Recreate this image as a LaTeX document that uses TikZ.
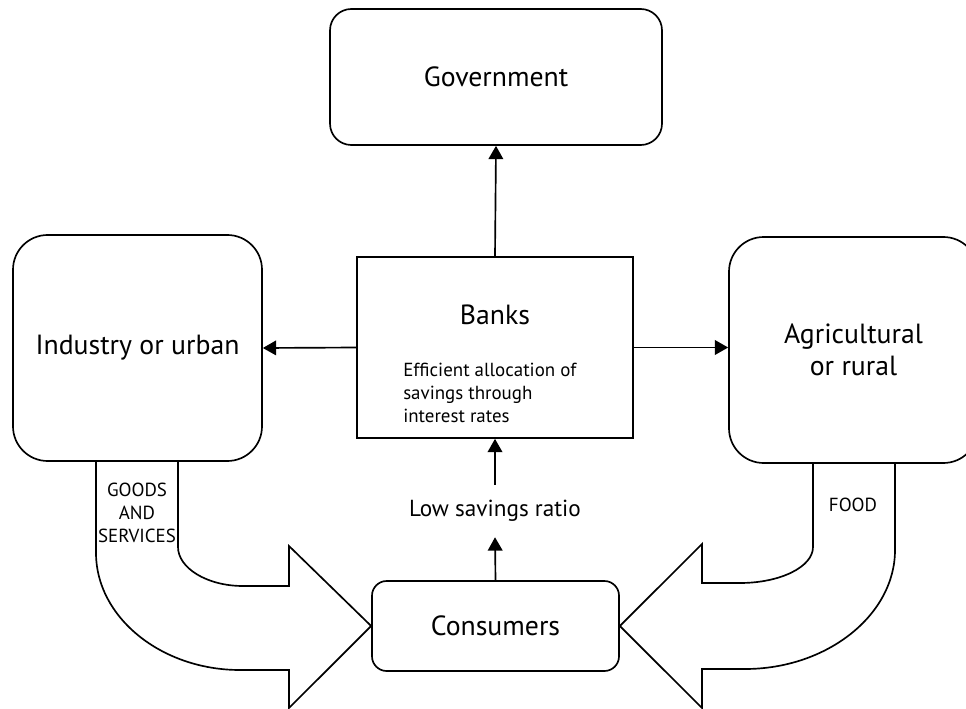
\documentclass[tikz,border=0pt]{standalone}
\usepackage{fontspec}
\setmainfont{PT Sans}
\usetikzlibrary{arrows.meta}
\tikzset{
  flownode/.style = {align=center, inner sep=0pt, text centered, font=\fontsize{20.8}{24}\selectfont},
  box_r/.style = {flownode, draw=black, line width=1.25pt},
  box_s/.style = {flownode, draw=black, line width=1.25pt},
  small_t/.style = {font=\fontsize{14.2}{17}\selectfont},
  flow_a/.style = {line width=1.25pt, -{Triangle[length=10pt,width=11pt]}},
  big_a/.style = {line width=1.25pt, line join=miter}
}

\begin{document}
\begin{tikzpicture}[x=0.75pt,y=-0.75pt]
\useasboundingbox (0,0) rectangle (966,709);
\node [box_r, rounded corners=16pt, minimum width=249pt, minimum height=102pt] (gov) at (496,77) {Government};
\node [box_s, minimum width=207pt, minimum height=135.75pt] (banks) at (495,347.5) {};
\node [flownode] (banks_t) at (495,315) {Banks};
\node [flownode, small_t, align=left, anchor=west] (banks_d) at (403,393) {Efficient allocation of\\savings through\\interest rates};
\node [box_r, rounded corners=26pt, minimum width=186.75pt, minimum height=169.5pt] (ind) at (137.5,348) {Industry or urban};
\node [box_r, rounded corners=26pt, minimum width=186.75pt, minimum height=169.5pt] (agri) at (853.5,350) {Agricultural\\or rural};
\node [box_r, rounded corners=11pt, minimum width=185.25pt, minimum height=67.5pt] (cons) at (495.5,626) {Consumers};
\node [flownode, font=\fontsize{17.4}{21}\selectfont, minimum height=39pt] (low) at (495,511) {Low savings ratio};
\node [flownode, small_t] (goods) at (137,513) {GOODS\\AND\\SERVICES};
\node [flownode, small_t] (food) at (853,505) {FOOD};

\draw [flow_a] (banks.north) -- (gov.south);
\draw [flow_a] (banks.west) -- (ind.east);
\draw [flow_a] (banks.east) -- (banks.east -| agri.west);
\draw [flow_a] (cons.north) -- (low.south);
\draw [flow_a] (low.north) -- (banks.south);

\draw [big_a] (96,461) -- (96,553) .. controls (96,617) and (161,670) .. (240,670) -- (289,670) -- (289,708) -- (cons.west) -- (289,546) -- (289,586) -- (243,586) .. controls (207,586) and (178,568) .. (178,547) -- (178,461);
\draw [big_a] (813,463) -- (813,547) .. controls (813,567) and (780,583) .. (740,583) -- (702,583) -- (702,544) -- (cons.east) -- (702,708) -- (702,669) -- (745,669) .. controls (827,669) and (895,615) .. (895,550) -- (895,463);
\end{tikzpicture}
\end{document}
